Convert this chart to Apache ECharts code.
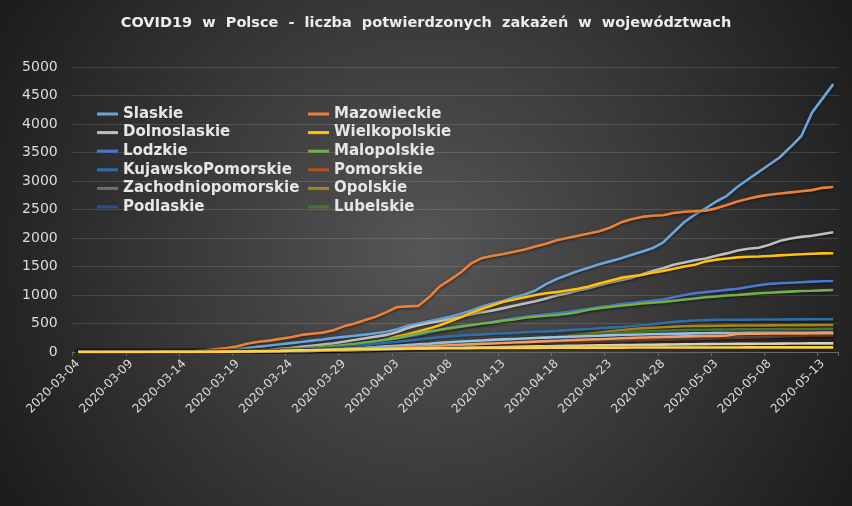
<!DOCTYPE html>
<html>
<head>
<meta charset="utf-8">
<script src="https://cdn.jsdelivr.net/npm/echarts@6/dist/echarts.min.js"></script>
<style>html,body{margin:0;padding:0;background:#2a2a2a}#c{width:852px;height:506px}</style>
</head>
<body>
<div id="c"></div>
<script>
const titleText = 'COVID19  w  Polsce  -  liczba  potwierdzonych  zakażeń  w  województwach';
const dates = ['2020-03-04','2020-03-05','2020-03-06','2020-03-07','2020-03-08','2020-03-09','2020-03-10','2020-03-11','2020-03-12','2020-03-13',
'2020-03-14','2020-03-15','2020-03-16','2020-03-17','2020-03-18','2020-03-19','2020-03-20','2020-03-21','2020-03-22','2020-03-23',
'2020-03-24','2020-03-25','2020-03-26','2020-03-27','2020-03-28','2020-03-29','2020-03-30','2020-03-31','2020-04-01','2020-04-02',
'2020-04-03','2020-04-04','2020-04-05','2020-04-06','2020-04-07','2020-04-08','2020-04-09','2020-04-10','2020-04-11','2020-04-12',
'2020-04-13','2020-04-14','2020-04-15','2020-04-16','2020-04-17','2020-04-18','2020-04-19','2020-04-20','2020-04-21','2020-04-22',
'2020-04-23','2020-04-24','2020-04-25','2020-04-26','2020-04-27','2020-04-28','2020-04-29','2020-04-30','2020-05-01','2020-05-02',
'2020-05-03','2020-05-04','2020-05-05','2020-05-06','2020-05-07','2020-05-08','2020-05-09','2020-05-10','2020-05-11','2020-05-12',
'2020-05-13','2020-05-14'];

const slaskie = [0,0,0,0,0,0,0,0,0,1, 4,8,14,22,35,55,75,95,115,135, 155,175,200,220,245,265,285,305,330,355, 400,460,500,540,580,620,670,730,800,850, 900,960,1010,1080,1190,1280,1350,1420,1480,1540, 1590,1640,1700,1760,1820,1920,2100,2280,2410,2520, 2640,2740,2900,3030,3160,3290,3420,3600,3790,4200, 4450,4700];
const mazowieckie = [0,0,0,0,1,2,3,4,5,5, 6,15,30,50,70,100,150,180,200,230, 260,300,320,340,380,450,500,560,620,700, 790,800,810,960,1150,1270,1400,1560,1650,1690, 1720,1760,1800,1850,1900,1960,2000,2040,2080,2120, 2180,2270,2330,2370,2390,2400,2440,2460,2470,2480, 2520,2580,2640,2690,2730,2760,2780,2800,2820,2840, 2880,2895];
const dolnoslaskie = [0,0,0,0,0,0,0,0,0,0, 1,2,4,6,10,15,20,30,40,55, 70,90,110,130,150,180,210,240,270,300, 350,420,470,510,540,580,620,660,700,730, 770,810,850,890,940,990,1030,1080,1120,1170, 1220,1260,1300,1360,1420,1470,1530,1570,1610,1640, 1690,1730,1780,1810,1830,1880,1950,1990,2020,2040, 2070,2100];
const wielkopolskie = [0,0,0,0,0,0,0,0,0,0, 0,1,2,3,5,8,12,18,22,26, 30,40,55,70,90,110,130,150,180,220, 270,310,360,410,470,540,610,690,760,820, 880,920,960,1000,1030,1050,1080,1110,1150,1200, 1250,1300,1330,1350,1390,1420,1460,1500,1530,1590, 1620,1640,1660,1670,1675,1685,1695,1705,1715,1725, 1730,1732];
const lodzkie = [0,0,0,0,0,0,0,0,0,0, 0,0,1,2,3,5,8,12,18,25, 35,45,60,75,95,115,140,160,185,210, 240,270,300,340,380,410,440,470,500,530, 560,590,620,640,660,680,700,730,760,790, 810,840,860,880,900,920,960,1000,1030,1050, 1070,1090,1110,1140,1170,1195,1205,1215,1225,1235, 1240,1245];
const malopolskie = [0,0,0,0,0,0,0,0,0,0, 0,1,2,4,6,10,15,20,28,35, 45,55,70,85,100,120,140,165,190,215, 240,280,320,360,390,420,450,475,500,520, 550,570,600,620,635,650,670,700,740,770, 790,810,830,850,865,880,900,920,940,960, 975,990,1000,1015,1030,1040,1050,1060,1070,1075, 1082,1088];
const kujawskoPomorskie = [0,0,0,0,0,0,0,0,0,0, 0,0,0,1,2,4,6,10,15,20, 28,36,45,55,70,85,100,120,140,160, 180,200,220,240,260,275,290,300,310,320, 328,336,347,355,362,371,383,395,404,418, 428,437,452,468,487,506,528,541,553,559, 563,565,567,568,569,570,571,572,573,574, 575,576];
const pomorskie = [0,0,0,0,0,0,0,0,0,0, 0,0,1,2,3,5,8,11,14,18, 23,27,33,38,45,50,57,62,69,75, 81,85,93,98,105,111,115,122,129,133, 140,146,149,156,160,166,171,174,181,186, 190,196,201,204,211,216,219,226,231,234, 240,246,249,256,261,264,271,276,280,285, 288,291];
const zachodniopomorskie = [0,0,0,0,0,0,0,0,0,0, 0,1,2,3,5,7,10,14,18,22, 27,32,38,44,50,57,63,70,77,84, 92,99,106,113,120,127,133,140,147,153, 160,166,172,178,184,190,196,201,206,211, 216,221,226,231,236,241,246,252,258,263, 268,273,277,281,285,289,293,296,299,302, 305,308];
const opolskie = [0,0,0,0,0,0,0,0,0,0, 0,0,0,0,1,2,3,5,8,12, 15,20,25,31,39,48,58,69,79,88, 99,108,117,129,138,149,158,171,179,191, 199,208,221,232,246,261,279,302,318,341, 362,381,398,414,426,434,445,451,455,458, 460,462,464,465,466,467,468,470,471,472, 473,474];
const podlaskie = [0,0,0,0,0,0,0,0,0,0, 0,0,0,1,2,3,5,7,10,13, 17,21,26,32,38,45,52,60,68,76, 85,94,103,112,122,132,142,152,163,174, 186,197,208,219,231,243,254,266,277,288, 297,305,312,318,324,330,335,340,345,350, 354,357,360,363,366,369,371,374,376,378, 379,381];
const lubelskie = [0,0,0,0,0,0,0,0,0,0, 0,0,1,1,2,4,6,9,12,16, 20,25,30,36,42,49,57,65,74,83, 93,103,113,124,135,146,158,170,182,195, 207,219,231,244,256,268,281,293,306,318, 329,339,349,358,366,373,379,384,388,391, 393,395,397,398,399,400,401,402,403,404, 405,406];
const podkarpackie = [0,0,0,0,0,0,0,0,0,0, 0,0,1,2,3,5,7,10,13,17, 22,27,33,40,48,56,65,75,86,98, 110,122,134,146,160,172,183,193,203,212, 221,229,237,245,253,260,266,273,279,285, 292,298,303,308,312,316,320,323,326,329, 331,333,334,335,336,337,338,338,339,339, 340,340];
const swietokrzyskie = [0,0,0,0,0,0,0,0,0,0, 0,0,0,1,2,3,4,6,8,10, 13,16,20,25,30,36,42,50,58,66, 75,84,93,102,110,118,126,134,142,150, 158,166,174,182,190,198,205,212,219,226, 233,240,247,254,260,266,270,274,277,280, 282,290,315,320,322,324,325,326,327,328, 329,330];
const warminskoMazurskie = [0,0,0,0,0,0,0,0,0,0, 0,0,0,0,1,2,3,5,7,9, 12,15,18,21,25,29,33,37,41,45, 49,53,57,61,65,69,73,77,80,84, 88,92,95,98,101,104,107,110,113,116, 119,122,124,126,128,130,132,134,136,138, 140,141,142,143,144,145,147,149,150,151, 152,152];
const lubuskie = [1,1,1,1,1,1,1,1,2,2, 2,3,4,5,7,9,11,14,17,20, 24,28,32,36,40,44,48,52,55,58, 60,62,63,64,65,66,67,68,69,70, 71,72,72,73,74,74,75,75,76,76, 77,77,78,78,78,79,79,79,80,80, 80,80,80,81,81,81,81,81,82,82, 82,82];

const seriesNames = ['Slaskie','Mazowieckie','Dolnoslaskie','Wielkopolskie','Lodzkie','Malopolskie','KujawskoPomorskie','Pomorskie','Zachodniopomorskie','Opolskie','Podlaskie','Lubelskie','Podkarpackie','Swietokrzyskie','WarminskoMazurskie','Lubuskie'];
const seriesData = [slaskie,mazowieckie,dolnoslaskie,wielkopolskie,lodzkie,malopolskie,kujawskoPomorskie,pomorskie,zachodniopomorskie,opolskie,podlaskie,lubelskie,podkarpackie,swietokrzyskie,warminskoMazurskie,lubuskie];
const seriesColors = ['#6aa6dc','#ee8138','#bfbfbf','#ffc20a','#4a78cc','#72b04a','#2f6ea6','#b0521a','#6e6e6e','#a8861a','#2b4e8c','#4a7430','#9cc4e6','#f29c68','#d9d4c6','#ffd43b'];
const legendLeft = ['Slaskie','Dolnoslaskie','Lodzkie','KujawskoPomorskie','Zachodniopomorskie','Podlaskie'];
const legendRight = ['Mazowieckie','Wielkopolskie','Malopolskie','Pomorskie','Opolskie','Lubelskie'];
const yTicks = {min: 0, max: 5000, interval: 500};

const chart = echarts.init(document.getElementById('c'));
const legendText = {color: '#e6e6e6', fontFamily: 'DejaVu Sans', fontWeight: 'bold', fontSize: 15, lineHeight: 14};
const legendBase = {orient: 'vertical', top: 101.5, itemWidth: 21, itemHeight: 3, itemGap: 3.6, icon: 'rect', selectedMode: false, textStyle: legendText};
chart.setOption({
  animation: false,
  backgroundColor: {type: 'radial', x: 0.5, y: 0.5, r: 1, colorStops: [{offset: 0, color: '#565656'}, {offset: 1, color: '#1a1a1a'}]},
  title: {text: titleText, left: 'center', top: 11, textStyle: {color: '#ececec', fontFamily: 'DejaVu Sans', fontWeight: 'bold', fontSize: 14.5}},
  legend: [Object.assign({}, legendBase, {left: 92, data: legendLeft}), Object.assign({}, legendBase, {left: 303, data: legendRight})],
  grid: [
    {left: 72.7, right: 13.4, top: 67, bottom: 154},
    {left: 72.7, right: 13.4, top: 351, height: 1}
  ],
  xAxis: [
    {
      gridIndex: 0, type: 'category', data: dates, boundaryGap: true,
      axisLine: {lineStyle: {color: '#6a6a6a'}},
      axisTick: {show: true, interval: 4, length: 4, lineStyle: {color: '#6a6a6a'}},
      axisLabel: {show: false}
    },
    {
      gridIndex: 1, type: 'category', data: dates, boundaryGap: true,
      axisLine: {show: false}, axisTick: {show: false}, splitLine: {show: false},
      axisLabel: {interval: 4, rotate: 45, margin: 10, color: '#dcdcdc', fontFamily: 'DejaVu Sans', fontSize: 12}
    }
  ],
  yAxis: [
    {
      gridIndex: 0, type: 'value', min: yTicks.min, max: yTicks.max, interval: yTicks.interval,
      axisLine: {show: false}, axisTick: {show: false},
      axisLabel: {margin: 15, color: '#dcdcdc', fontFamily: 'DejaVu Sans', fontSize: 14, formatter: v => String(v)},
      splitLine: {lineStyle: {color: 'rgba(255,255,255,0.13)', width: 1}}
    },
    {gridIndex: 1, type: 'value', show: false, min: 0, max: 1}
  ],
  series: seriesNames.map((n, k) => ({
    name: n, type: 'line', data: seriesData[k], symbol: 'none', showSymbol: false,
    xAxisIndex: 0, yAxisIndex: 0,
    color: seriesColors[k],
    lineStyle: {width: 2.6, color: seriesColors[k], shadowColor: 'rgba(0,0,0,0.55)', shadowBlur: 3, shadowOffsetY: 1},
    emphasis: {disabled: true}
  }))
});
</script>
</body>
</html>
